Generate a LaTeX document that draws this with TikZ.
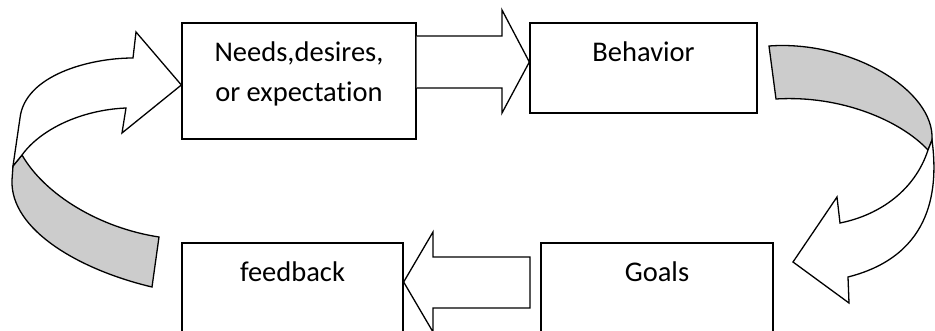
\documentclass[tikz,border=0pt]{standalone}
\usepackage{fontspec}
\setmainfont[Ligatures=NoCommon]{Carlito}
\usepackage{tikz}
\usetikzlibrary{fit,calc}
\definecolor{backside}{HTML}{CCCCCC}
\newcommand\stage[3]{\node[stage,fit={#2}] (#1) {}; \node[slabel] (#1-label) at (#1.north) {#3};}

\begin{document}
\begin{tikzpicture}[x=1pt,y=-1pt]
\tikzstyle{stage}=[draw,rectangle,fill=white,inner sep=0pt,line width=1.3pt]
\tikzstyle{slabel}=[anchor=north,inner sep=0pt,yshift=-19pt,align=center,font=\fontsize{28.5}{40}\selectfont]
\tikzstyle{block}=[draw,fill=white,line width=1.3pt]
\tikzstyle{twist}=[draw,fill=backside,line width=1.3pt]
\useasboundingbox (0,0) rectangle (935,331);
\clip (0,0) rectangle (935,331);
\stage{needs}{(182,23)(416,139)}{Needs,desires,\\or expectation}
\stage{behavior}{(530,23)(757,113)}{Behavior}
\stage{feedback}{(182,243)(403,345)}{feedback}
\stage{goals}{(541,243)(773,345)}{Goals}
% needs -> behavior
\draw[block] (needs.east |- 0,36) -- (502,36) -- (502,10) -- (behavior.west |- 0,62)
  -- (502,113) -- (502,88) -- (needs.east |- 0,88);
% goals -> feedback
\draw[block] (530,257) -- (433,257) -- (433,232) -- (feedback.east |- 0,282)
  -- (433,332) -- (433,308) -- (530,308) -- cycle;
% behavior -> goals, bent
\draw[twist] (769,46) .. controls (850,40) and (935,90) .. (932,140) -- (928,150)
  .. controls (900,120) and (840,95) .. (776,99) -- cycle;
\draw[block] (928,150) .. controls (915,190) and (880,215) .. (840,223) -- (837,197)
  -- (793,262) -- (849,303) -- (848,277) .. controls (935,255) and (938,185) .. (932,140) -- cycle;
% feedback -> needs, bent
\draw[twist] (22,155) .. controls (45,195) and (100,228) .. (159,237) -- (152,287)
  .. controls (80,270) and (10,230) .. (12,180) -- (13,166) -- cycle;
\draw[block] (13,166) -- (20,118) .. controls (25,75) and (90,58) .. (133,58) -- (136,32)
  -- (needs.west |- 0,85) -- (122,133) -- (126,108) .. controls (80,110) and (40,130) .. (22,155) -- cycle;
\end{tikzpicture}
\end{document}
